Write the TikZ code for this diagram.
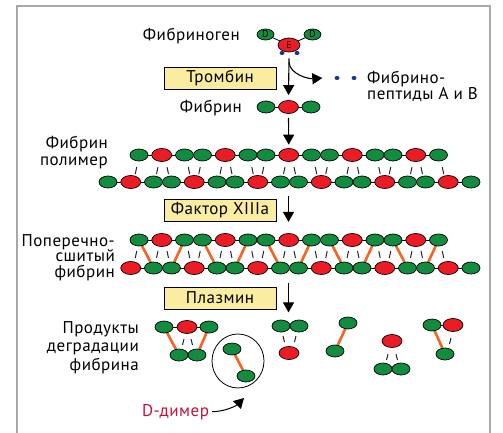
\documentclass[tikz,border=0pt]{standalone}
\usepackage{fontspec}
\setmainfont{PT Sans}[LetterSpace=3]
\usetikzlibrary{shapes.geometric,arrows.meta,backgrounds}

\definecolor{beadgreen}{RGB}{18,140,62}
\definecolor{beadred}{RGB}{237,28,36}
\definecolor{xorange}{RGB}{242,101,34}
\definecolor{boxyellow}{RGB}{250,236,160}
\definecolor{fpnavy}{RGB}{30,50,140}
\definecolor{ddred}{RGB}{196,18,58}
\definecolor{framegray}{RGB}{168,168,168}

% upper strand of a fibrin double row: five D-E-D units
\newcommand\upperstrand[2]{%
  \foreach \g in {0,...,4} {
    \pgfmathsetmacro\bx{139+63.5*\g}
    \node[gbead] (#1-\g-a) at (\bx,#2) {};
    \node[rbead] (#1-\g-b) at (\bx+22.75,#2) {};
    \node[gbead] (#1-\g-c) at (\bx+45.5,#2) {};
  }}
% lower strand: six D-E-D units, #3=1 keeps the leading D
\newcommand\lowerstrand[3]{%
  \foreach \g in {0,...,5} {
    \pgfmathsetmacro\bx{108+63.5*\g}
    \ifnum\g=0 \ifnum#3=1 \node[gbead] (#1-\g-a) at (\bx,#2) {};\fi
    \else \node[gbead] (#1-\g-a) at (\bx,#2) {};\fi
    \node[rbead] (#1-\g-b) at (\bx+22.75,#2) {};
    \node[gbead] (#1-\g-c) at (\bx+45.5,#2) {};
  }}
% short D:E contact marks between the two strands
\newcommand\contacts[2]{%
  \foreach \k in {0,...,10} {
    \pgfmathsetmacro\cx{130.75+31.75*\k}
    \ifodd\k
      \draw[hbond] (\cx-4.5,#1) -- (\cx-6,#2);
      \draw[hbond] (\cx+4.5,#1) -- (\cx+6,#2);
    \else
      \ifnum\k>0 \draw[hbond] (\cx-6,#1) -- (\cx-4.5,#2);\fi
      \ifnum\k<10 \draw[hbond] (\cx+6,#1) -- (\cx+4.5,#2);\fi
    \fi
  }}

\begin{document}
\begin{tikzpicture}[x=1pt,y=-1pt,
  bead/.style={ellipse,draw=black,line width=0.7pt,inner sep=0pt},
  gbead/.style={bead,fill=beadgreen,minimum width=18pt,minimum height=12pt},
  rbead/.style={bead,fill=beadred,minimum width=20pt,minimum height=13pt},
  fpdot/.style={ellipse,fill=fpnavy,inner sep=0pt,minimum width=5pt,minimum height=4pt},
  link/.style={draw=black,line width=0.8pt},
  xlink/.style={draw=xorange,line width=2.6pt},
  hbond/.style={draw=black!85,line width=1pt},
  enzyme/.style={draw=black,line width=0.8pt,fill=boxyellow,minimum width=112pt,
    minimum height=22pt,inner sep=0pt,font=\fontsize{17}{20}\selectfont},
  lbl/.style={inner sep=0pt,font=\fontsize{17}{17}\selectfont},
  domainletter/.style={font=\fontsize{10}{10}\selectfont},
  flow/.style={-{Triangle[width=11pt,length=10pt]},line width=1.1pt},
  frameline/.style={draw=framegray,line width=2pt}]
\useasboundingbox (0,0) rectangle (503,433);

% frame
\draw[frameline] (17,433) -- (17,6) -- (490,6) -- (490,433);

% fibrinogen
\node[gbead,minimum width=17pt,minimum height=11pt,domainletter] (fg-D1) at (265.5,34.5) {D};
\node[rbead,minimum width=22pt,minimum height=14pt,domainletter] (fg-E) at (289,45) {E};
\node[gbead,minimum width=17pt,minimum height=11pt,domainletter] (fg-D2) at (312.5,34.5) {D};
\node[fpdot] (fg-A) at (282,53) {};
\node[fpdot] (fg-B) at (297,53) {};
\node[lbl,anchor=base east] (t-fg) at (240,41) {Фибриноген};

% thrombin and released fibrinopeptides
\node[enzyme] (thrombin) at (220,78) {Тромбин};
\node[fpdot] (fp-1) at (337,78) {};
\node[fpdot] (fp-2) at (354,78) {};
\node[lbl,anchor=base west,align=left] (t-fp) at (367,100) {Фибрино-\\пептиды А и В};

% fibrin monomer
\node[gbead] (fb-D1) at (266,107) {};
\node[rbead] (fb-E) at (288.5,107) {};
\node[gbead] (fb-D2) at (311,107) {};
\node[lbl,anchor=base east] (t-fb) at (242,113) {Фибрин};

% fibrin polymer
\upperstrand{pa}{155}
\lowerstrand{pb}{182}{1}
\contacts{167}{174}
\node[lbl,anchor=base east,align=right] (t-poly) at (108,165) {Фибрин\\полимер};

% factor XIIIa
\node[enzyme] (fxiii) at (220,210.5) {Фактор XIIIa};

% cross-linked fibrin
\upperstrand{ca}{240}
\lowerstrand{cb}{268}{0}
\contacts{251}{258}
\node[lbl,anchor=base east,align=right,font=\fontsize{17}{15.5}\selectfont] (t-cross) at (115,277) {Поперечно-\\сшитый\\фибрин};

% plasmin
\node[enzyme] (plasmin) at (220,298) {Плазмин};

% degradation products
\node[gbead] (p1-a) at (164,327) {};
\node[rbead] (p1-b) at (187,327) {};
\node[gbead] (p1-c) at (209,327) {};
\node[gbead] (p1-d) at (179,355) {};
\node[gbead] (p1-e) at (197,355) {};
\draw[hbond] (184,339) -- (182.5,345);
\draw[hbond] (191,339) -- (192.5,345);

\node[ellipse,draw=black,line width=0.8pt,minimum width=52pt,minimum height=54pt,inner sep=0pt] (dd-ring) at (238,361) {};
\node[gbead] (dd-a) at (232,349) {};
\node[gbead] (dd-b) at (246,376) {};

\node[gbead] (p3-a) at (281,326) {};
\node[gbead] (p3-b) at (299,326) {};
\node[rbead] (p3-c) at (289,353) {};
\draw[hbond] (283,336) -- (284.5,342);
\draw[hbond] (296,336) -- (294.5,342);

\node[gbead] (p4-a) at (348,323) {};
\node[gbead] (p4-b) at (335,351) {};

\node[rbead] (p5-a) at (392,341) {};
\node[gbead] (p5-b) at (383,369) {};
\node[gbead] (p5-c) at (401,369) {};
\draw[hbond] (388,354) -- (386.5,360);
\draw[hbond] (396,354) -- (397.5,360);

\node[gbead] (p6-a) at (432,325) {};
\node[rbead] (p6-b) at (453,325) {};
\node[gbead] (p6-c) at (445,354) {};
\draw[hbond] (451,338) -- (449.5,344);

\node[lbl,anchor=base east,align=right,font=\fontsize{17}{18.5}\selectfont] (t-fdp) at (139,370) {Продукты\\деградации\\фибрина};
\node[lbl,anchor=base,text=ddred] (t-dd) at (175.5,416) {D-димер};
\coordinate (dd-tip) at (244,398);

% backbone links and covalent cross-links behind the beads
\begin{scope}[on background layer]
  \draw[link] (fg-D1.center) -- (fg-E.center) -- (fg-D2.center);
  \draw[link] (fb-D1.center) -- (fb-D2.center);
  \draw[link] (pa-0-a.center) -- (pa-4-c.center);
  \draw[link] (pb-0-a.center) -- (pb-5-c.center);
  \draw[link] (ca-0-a.center) -- (ca-4-c.center);
  \draw[link] (cb-0-b.center) -- (cb-5-c.center);
  \foreach \g [evaluate=\g as \h using int(\g+1)] in {0,...,4} {
    \draw[xlink] (ca-\g-a.center) -- (cb-\g-c.center);
    \draw[xlink] (ca-\g-c.center) -- (cb-\h-a.center);
  }
  \draw[link] (p1-a.center) -- (p1-c.center);
  \draw[link] (p1-d.center) -- (p1-e.center);
  \draw[xlink] (p1-a.center) -- (p1-d.center);
  \draw[xlink] (p1-c.center) -- (p1-e.center);
  \draw[xlink] (dd-a.center) -- (dd-b.center);
  \draw[link] (p3-a.center) -- (p3-b.center);
  \draw[xlink] (p4-a.center) -- (p4-b.center);
  \draw[link] (p5-b.center) -- (p5-c.center);
  \draw[link] (p6-a.center) -- (p6-b.center);
  \draw[xlink] (p6-a.center) -- (p6-c.center);
\end{scope}

% reaction arrows
\draw[flow] ([yshift=-6pt]fg-E.south) -- ([yshift=5pt]fb-E.north);
\draw[flow] ([yshift=-10pt]fg-E.south) .. controls +(1,12) and +(-14,1) .. ([xshift=-12pt]fp-1.west);
\draw[flow] ([yshift=-4pt]fb-E.south) -- ([yshift=3.5pt]pa-2-b.north);
\draw[flow] ([yshift=3pt]fxiii.north -| fb-E) -- (fxiii.south -| fb-E);
\draw[flow] ([yshift=4pt]plasmin.north -| fb-E) -- ([yshift=-3pt]plasmin.south -| fb-E);
\draw[flow,line width=1pt] ([xshift=3pt]t-dd.east) .. controls +(12,0) and +(-8,8) .. (dd-tip);
\end{tikzpicture}
\end{document}
